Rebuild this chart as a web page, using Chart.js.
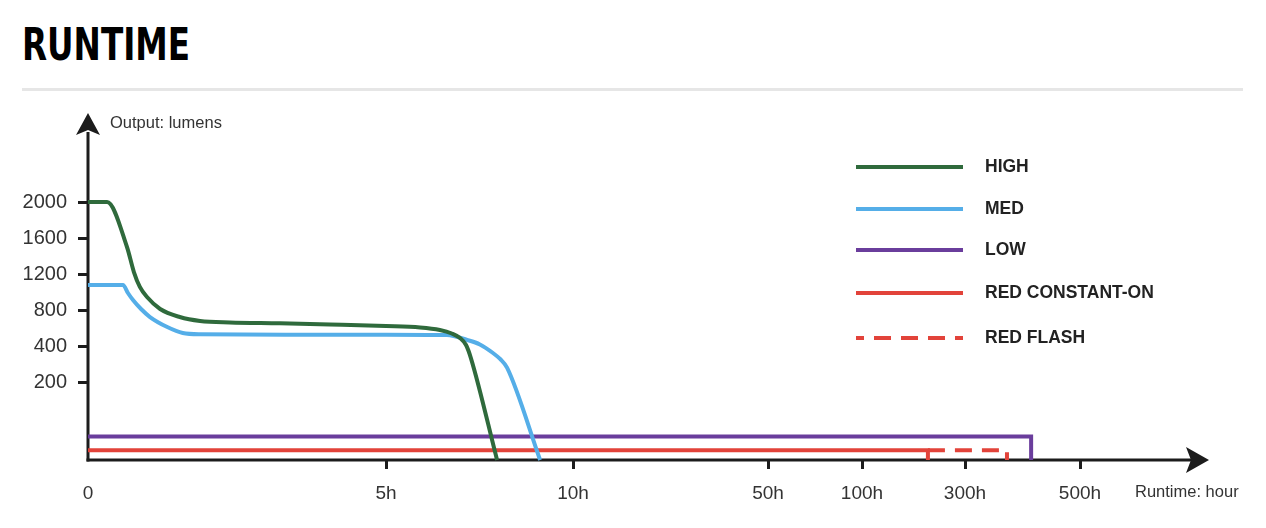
<!DOCTYPE html>
<html><head><meta charset="utf-8">
<script src="https://cdn.jsdelivr.net/npm/chart.js@4.4.0/dist/chart.umd.min.js"></script>
<style>
html,body{margin:0;padding:0;background:#fff;width:1266px;height:528px;overflow:hidden;}
#title{position:absolute;left:22px;top:23px;margin:0;font-family:"Liberation Sans Narrow","DejaVu Sans Condensed",sans-serif;font-weight:bold;font-size:44px;line-height:1;color:#000;transform-origin:0 0;white-space:nowrap;}
#rule{position:absolute;left:22px;top:88px;width:1221px;height:3px;background:#e6e6e6;}
#wrap{position:absolute;left:0;top:0;width:1266px;height:528px;}
</style></head>
<body>
<h1 id="title">RUNTIME</h1>
<div id="rule"></div>
<div id="wrap"><canvas id="c" width="1266" height="528"></canvas></div>
<script>
// fit title width to the reference's condensed face
(function(){ const t=document.getElementById('title'); const w=t.getBoundingClientRect().width; if (w>0) t.style.transform='scaleX('+(168/w)+')'; })();

// ---- data (hours, lumens) ----
const highHours  = [0, 0.32, 0.654, 0.77, 0.87, 0.99, 1.21, 1.54, 1.88, 2.38, 3.22, 4.06, 5.0, 5.91, 6.44, 6.76, 6.98, 7.14, 7.27, 7.97];
const highLumens = [2000, 2000, 1500, 1222, 1056, 944, 811, 722, 678, 661, 652, 639, 622, 606, 578, 539, 489, 411, 333, 0];
const medHours   = [0, 0.587, 0.67, 0.755, 0.89, 1.04, 1.33, 1.59, 1.88, 3.56, 5.0, 6.63, 7.17, 7.51, 7.86, 8.05, 8.24, 9.12];
const medLumens  = [1078, 1078, 989, 911, 811, 722, 611, 544, 530, 526, 526, 522, 467, 417, 361, 328, 278, 0];
const lowHours   = [0, 415, 415];
const lowLumens  = [60, 60, 0];
const redHours   = [0, 228, 228];
const redLumens  = [25, 25, 0];
const flashHours = [228, 373, 373];
const flashLumens= [25, 25, 0];

const seriesLabels = ['HIGH', 'MED', 'LOW', 'RED CONSTANT-ON', 'RED FLASH'];
const xTickValues = [0, 5, 10, 50, 100, 300, 500];
const xTickLabels = ['0', '5h', '10h', '50h', '100h', '300h', '500h'];
const yTickValues = [200, 400, 800, 1200, 1600, 2000];
const yTickLabels = ['200', '400', '800', '1200', '1600', '2000'];

// ---- piecewise axis layout (value -> offset along axis) ----
const axisBreaks = {
  x: { values: [0, 5, 10, 50, 100, 300, 500, 800], offsets: [0, 298, 485, 680, 774, 877, 992, 1119] },
  y: { values: [0, 200, 400, 800, 1200, 1600, 2000, 2933], offsets: [0, 78, 114, 150, 186, 222, 258, 342] }
};

class PiecewiseScale extends Chart.LinearScale {
  _br() { return axisBreaks[this.id]; }
  _toDecimal(v) {
    const b = this._br(), vs = b.values, os = b.offsets, tot = os[os.length - 1];
    if (v <= vs[0]) return (os[0] + (v - vs[0]) / (vs[1] - vs[0]) * (os[1] - os[0])) / tot;
    for (let i = 1; i < vs.length; i++) {
      if (v <= vs[i]) { const t = (v - vs[i-1]) / (vs[i] - vs[i-1]); return (os[i-1] + t * (os[i] - os[i-1])) / tot; }
    }
    const n = vs.length - 1;
    return (os[n] + (v - vs[n]) / (vs[n] - vs[n-1]) * (os[n] - os[n-1])) / tot;
  }
  _fromDecimal(d) {
    const b = this._br(), vs = b.values, os = b.offsets, tot = os[os.length - 1];
    const o = d * tot;
    for (let i = 1; i < os.length; i++) {
      if (o <= os[i]) { const t = (o - os[i-1]) / (os[i] - os[i-1]); return vs[i-1] + t * (vs[i] - vs[i-1]); }
    }
    return vs[vs.length - 1];
  }
  determineDataLimits() { const b = this._br(); this.min = b.values[0]; this.max = b.values[b.values.length - 1]; }
  buildTicks() { return (this.id === 'x' ? xTickValues : yTickValues).map(v => ({ value: v })); }
  getPixelForValue(v) { return this.getPixelForDecimal(this._toDecimal(v)); }
  getValueForPixel(p) { return this._fromDecimal(this.getDecimalForPixel(p)); }
}
PiecewiseScale.id = 'piecewise';
PiecewiseScale.defaults = Chart.LinearScale.defaults;
Chart.register(PiecewiseScale);

function pts(hs, ls) { return hs.map((h, i) => ({ x: h, y: ls[i] })); }

const colors = ['#2f6a3c', '#55aee8', '#6a3d9c', '#e2433a', '#e2433a'];
const AXIS = '#1c1c1c';

Chart.defaults.font.family = '"Liberation Sans", Arial, Helvetica, sans-serif';
Chart.defaults.color = '#333';

const overlay = {
  id: 'overlay',
  beforeDatasetsDraw(chart) {
    const { ctx, chartArea: a } = chart;
    ctx.save();
    ctx.strokeStyle = AXIS; ctx.fillStyle = AXIS; ctx.lineWidth = 3;
    ctx.beginPath(); ctx.moveTo(a.left, a.bottom + 1.5); ctx.lineTo(a.left, a.top + 14); ctx.stroke();
    ctx.beginPath(); ctx.moveTo(a.left, a.top - 5); ctx.lineTo(a.left - 12, a.top + 17); ctx.lineTo(a.left, a.top + 12); ctx.lineTo(a.left + 12, a.top + 17); ctx.closePath(); ctx.fill();
    ctx.beginPath(); ctx.moveTo(a.left - 1.5, a.bottom); ctx.lineTo(a.right - 14, a.bottom); ctx.stroke();
    ctx.beginPath(); ctx.moveTo(a.right + 2, a.bottom); ctx.lineTo(a.right - 21, a.bottom - 13); ctx.lineTo(a.right - 16, a.bottom); ctx.lineTo(a.right - 21, a.bottom + 13); ctx.closePath(); ctx.fill();
    ctx.fillStyle = '#333';
    ctx.font = '16.5px "Liberation Sans", Arial, sans-serif';
    ctx.textBaseline = 'middle'; ctx.textAlign = 'left';
    ctx.fillText('Output: lumens', a.left + 22, a.top + 5);
    ctx.fillText('Runtime: hour', 1135, a.bottom + 32);
    ctx.restore();
  },
  afterDatasetsDraw(chart) {
    const { ctx } = chart;
    const rows = [167, 209, 250, 293, 338];
    ctx.save();
    chart.data.datasets.forEach((ds, i) => {
      const y = rows[i];
      ctx.strokeStyle = ds.borderColor; ctx.lineWidth = 4; ctx.lineCap = 'butt';
      ctx.setLineDash(ds.borderDash || []);
      ctx.lineDashOffset = ds.borderDash ? 9 : 0;
      ctx.beginPath(); ctx.moveTo(856, y); ctx.lineTo(963, y); ctx.stroke();
      ctx.setLineDash([]);
      ctx.fillStyle = '#222';
      ctx.font = 'bold 17.5px "Liberation Sans", Arial, sans-serif';
      ctx.textBaseline = 'middle'; ctx.textAlign = 'left';
      ctx.fillText(ds.label, 985, y);
    });
    ctx.restore();
  }
};

const lineBase = { pointRadius: 0, borderWidth: 4, fill: false, borderJoinStyle: 'miter', borderCapStyle: 'butt' };

new Chart(document.getElementById('c'), {
  type: 'line',
  data: {
    datasets: [
      Object.assign({ label: seriesLabels[0], data: pts(highHours, highLumens), borderColor: colors[0], cubicInterpolationMode: 'monotone' }, lineBase, { borderJoinStyle: 'round' }),
      Object.assign({ label: seriesLabels[1], data: pts(medHours, medLumens), borderColor: colors[1], cubicInterpolationMode: 'monotone' }, lineBase, { borderJoinStyle: 'round' }),
      Object.assign({ label: seriesLabels[2], data: pts(lowHours, lowLumens), borderColor: colors[2], tension: 0 }, lineBase),
      Object.assign({ label: seriesLabels[3], data: pts(redHours, redLumens), borderColor: colors[3], tension: 0 }, lineBase),
      Object.assign({ label: seriesLabels[4], data: pts(flashHours, flashLumens), borderColor: colors[4], tension: 0, borderDash: [17, 10] }, lineBase)
    ]
  },
  options: {
    responsive: false,
    animation: false,
    events: [],
    layout: { padding: { top: 118, right: 59, left: 0, bottom: 0 } },
    plugins: { legend: { display: false }, tooltip: { enabled: false } },
    scales: {
      x: {
        type: 'piecewise',
        border: { display: false },
        grid: { drawOnChartArea: false, drawTicks: true, tickLength: 9, tickWidth: 3,
                tickColor: (c) => (c.tick && c.tick.value === 0) ? 'rgba(0,0,0,0)' : AXIS },
        ticks: { autoSkip: false, maxRotation: 0, padding: 13, color: '#333', font: { size: 19 },
                 callback: (v, i) => xTickLabels[i] },
        afterFit: (s) => { s.height = 68; }
      },
      y: {
        type: 'piecewise',
        border: { display: false },
        grid: { drawOnChartArea: false, drawTicks: true, tickLength: 10, tickWidth: 3, tickColor: AXIS },
        ticks: { autoSkip: false, padding: 11, color: '#333', font: { size: 20 },
                 callback: (v, i) => yTickLabels[i] },
        afterFit: (s) => { s.width = 88; }
      }
    }
  },
  plugins: [overlay]
});
</script>
</body></html>
